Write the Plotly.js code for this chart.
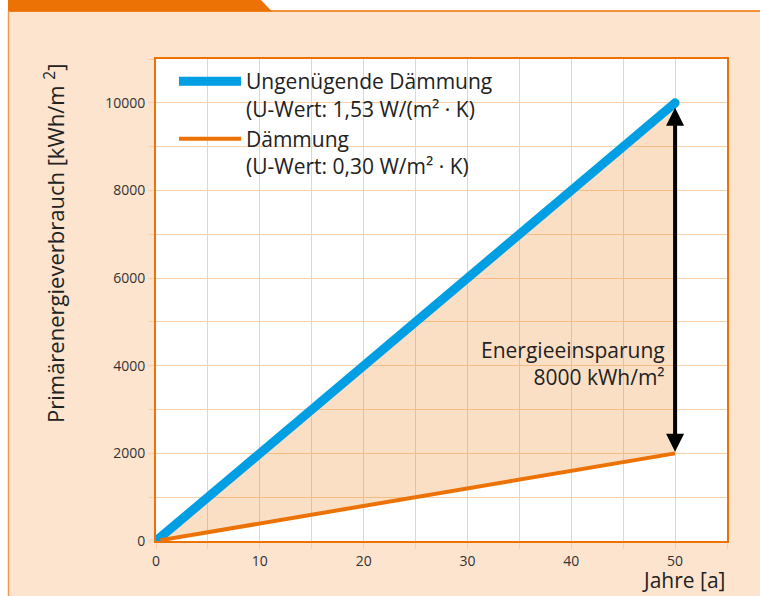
<!DOCTYPE html>
<html>
<head>
<meta charset="utf-8">
<script src="https://cdn.plot.ly/plotly-3.0.1.min.js"></script>
<style>html,body{margin:0;padding:0;background:#fff;}#chart{width:760px;height:596px;}</style>
</head>
<body>
<div id="chart"></div>
<script>
// ---- data ----
const years = [0, 50];
const ungenuegend = [0, 10000];
const daemmung = [0, 2000];
const seriesNames = [
  "Ungenügende Dämmung<br>(U-Wert: 1,53 W/(m² · K)",
  "Dämmung<br>(U-Wert: 0,30 W/m² · K)"
];
const xTickVals = [0, 10, 20, 30, 40, 50];
const yTickVals = [0, 2000, 4000, 6000, 8000, 10000];
const savingLabel = "Energieeinsparung<br>8000 kWh/m²";
const xTitle = "Jahre [a]";
const yTitle = "Primärenergieverbrauch [kWh/m <sup>2</sup>]";

// ---- style ----
const ORANGE = "#ED7205";
const BLUE = "#009FE3";
const PEACH = "#FCE4CF";
const GRID = "#F9D0A9";
const FONT = "Open Sans";
const W = 760, H = 596;
const M = {l: 156, r: 33, t: 59, b: 55};
const PW = W - M.l - M.r, PH = H - M.t - M.b;
const px2x = px => (px - M.l) / PW;
const py2y = py => (H - M.b - py) / PH;

const traces = [
  {x: years, y: daemmung, mode: "lines", line: {width: 0, color: ORANGE}, showlegend: false, hoverinfo: "skip"},
  {x: years, y: ungenuegend, mode: "lines", line: {width: 0, color: BLUE}, fill: "tonexty",
   fillcolor: "rgba(240,130,30,0.26)", showlegend: false, hoverinfo: "skip"},
  {x: years, y: ungenuegend, mode: "lines", name: seriesNames[0], line: {width: 9, color: BLUE}},
  {x: years, y: daemmung, mode: "lines", name: seriesNames[1], line: {width: 4, color: ORANGE}},
  {x: years, y: ungenuegend, mode: "markers", marker: {size: 9, color: BLUE}, showlegend: false, hoverinfo: "skip"}
];

const axisCommon = {
  showline: true, linecolor: ORANGE, linewidth: 2, mirror: true,
  showgrid: true, gridcolor: GRID, gridwidth: 1, zeroline: false,
  ticks: "outside", ticklen: 6, tickcolor: GRID, tickwidth: 1, tickformat: "d",
  tickfont: {family: FONT, size: 14, color: "#333"}
};

const layout = {
  width: W, height: H, autosize: false,
  margin: M,
  paper_bgcolor: PEACH, plot_bgcolor: "#fff",
  font: {family: FONT, color: "#222"},
  showlegend: true,
  legend: {
    x: px2x(174), y: py2y(61), xanchor: "left", yanchor: "top", traceorder: "normal",
    bgcolor: "rgba(0,0,0,0)", borderwidth: 0, valign: "top",
    itemwidth: 62, font: {family: FONT, size: 21, color: "#222"}
  },
  xaxis: Object.assign({}, axisCommon, {
    range: [0, 55], tickvals: xTickVals,
    minor: {dtick: 5, showgrid: true, gridcolor: GRID, ticks: "outside", ticklen: 6, tickcolor: GRID}
  }),
  yaxis: Object.assign({}, axisCommon, {
    range: [0, 11000], tickvals: yTickVals,
    minor: {dtick: 1000, showgrid: true, gridcolor: GRID, ticks: "outside", ticklen: 6, tickcolor: GRID}
  }),
  shapes: [
    {type: "rect", xref: "paper", yref: "paper", x0: px2x(0), x1: px2x(8), y0: py2y(H), y1: py2y(0), fillcolor: "#fff", line: {width: 0}},
    {type: "rect", xref: "paper", yref: "paper", x0: px2x(0), x1: px2x(W), y0: py2y(11), y1: py2y(0), fillcolor: "#fff", line: {width: 0}},
    {type: "path", xref: "paper", yref: "paper",
     path: `M ${px2x(8)},${py2y(0)} L ${px2x(261)},${py2y(0)} L ${px2x(272)},${py2y(11.5)} L ${px2x(8)},${py2y(11.5)} Z`,
     fillcolor: ORANGE, line: {width: 0}},
    {type: "line", xref: "paper", yref: "paper", x0: px2x(8), x1: px2x(W), y0: py2y(11), y1: py2y(11), line: {color: ORANGE, width: 1.5}},
    {type: "line", xref: "paper", yref: "paper", x0: px2x(8.5), x1: px2x(8.5), y0: py2y(11), y1: py2y(H), line: {color: "#F19A4E", width: 1.5}}
  ],
  annotations: [
    {xref: "x", yref: "y", x: years[1], y: ungenuegend[1], axref: "x", ayref: "y", ax: years[1], ay: daemmung[1],
     text: "", showarrow: true, arrowside: "end+start", arrowhead: 2, startarrowhead: 2,
     arrowsize: 0.9, startarrowsize: 0.9, arrowwidth: 4, arrowcolor: "#000", standoff: 5, startstandoff: 0},
    {xref: "x", yref: "y", x: years[1], y: 4050, xanchor: "right", yanchor: "middle", xshift: -8,
     text: savingLabel, align: "right", showarrow: false, font: {family: FONT, size: 21, color: "#222"}},
    {xref: "paper", yref: "paper", x: 1, y: py2y(596), xanchor: "right", yanchor: "bottom",
     text: xTitle, showarrow: false, font: {family: FONT, size: 21, color: "#222"}},
    {xref: "paper", yref: "paper", x: px2x(55), y: py2y(244), xanchor: "center", yanchor: "middle",
     text: yTitle, textangle: -90, showarrow: false, font: {family: FONT, size: 22, color: "#222"}}
  ]
};

Plotly.newPlot("chart", traces, layout, {staticPlot: true, displayModeBar: false});
</script>
</body>
</html>
